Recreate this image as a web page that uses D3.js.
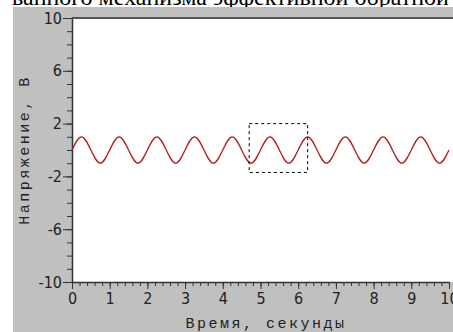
<!DOCTYPE html>
<html>
<head>
<meta charset="utf-8">
<script src="https://cdn.jsdelivr.net/npm/d3@7"></script>
<style>
  body { margin: 0; background: #fff; }
  .tick text { font-family: "Liberation Sans Narrow", "DejaVu Sans Condensed", sans-serif; font-size: 16px; fill: #222; }
  .axis-title { font-family: "Liberation Mono", monospace; font-size: 15px; letter-spacing: 2.5px; fill: #222; }
</style>
</head>
<body>
<div id="chart"></div>
<script>
// time, seconds (quarter periods) and voltage, V
const times = [0, 0.25, 0.5, 0.75, 1, 1.25, 1.5, 1.75, 2, 2.25, 2.5, 2.75, 3, 3.25, 3.5, 3.75,
  4, 4.25, 4.5, 4.75, 5, 5.25, 5.5, 5.75, 6, 6.25, 6.5, 6.75, 7, 7.25, 7.5, 7.75,
  8, 8.25, 8.5, 8.75, 9, 9.25, 9.5, 9.75, 10];
const volts = [0, 1, 0, -1, 0, 1, 0, -1, 0, 1, 0, -1, 0, 1, 0, -1,
  0, 1, 0, -1, 0, 1, 0, -1, 0, 1, 0, -1, 0, 1, 0, -1,
  0, 1, 0, -1, 0, 1, 0, -1, 0];
const xTickLabels = [0, 1, 2, 3, 4, 5, 6, 7, 8, 9, 10];
const yTickLabels = [10, 6, 2, -2, -6, -10];
// dashed selection box: [x0, x1, y0, y1]
const zoomBox = [4.7, 6.25, -1.7, 2];
const titleText = "ванного механизма эффективной обратной связи";

const W = 453, H = 332;
const margin = {top: 18, right: 0, bottom: 50, left: 72};

const svg = d3.select("#chart").append("svg")
  .attr("width", W)
  .attr("height", H);

svg.append("text")
  .attr("x", 12)
  .attr("y", 5)
  .style("font-family", "Liberation Serif, serif")
  .style("font-size", "24px")
  .style("fill", "#000")
  .text(titleText);

svg.append("rect")
  .attr("x", 13).attr("y", 7)
  .attr("width", W - 13).attr("height", H - 7)
  .attr("fill", "#c0c0c0");

const x = d3.scaleLinear().domain([0, 10]).range([margin.left, 449]);
const y = d3.scaleLinear().domain([-10, 10]).range([282, margin.top]);

svg.append("rect")
  .attr("x", margin.left).attr("y", margin.top)
  .attr("width", W - margin.left).attr("height", y(-10) - margin.top)
  .attr("fill", "#fff");

// top frame line
svg.append("line")
  .attr("x1", margin.left).attr("x2", W)
  .attr("y1", margin.top).attr("y2", margin.top)
  .attr("stroke", "#555").attr("stroke-width", 2);

// minor ticks
svg.append("g")
  .attr("transform", `translate(0,${y(-10)})`)
  .call(d3.axisBottom(x).ticks(50).tickSize(4).tickFormat("").tickSizeOuter(0))
  .call(g => g.select(".domain").remove())
  .call(g => g.selectAll("line").attr("stroke", "#333"));

svg.append("g")
  .attr("transform", `translate(${margin.left},0)`)
  .call(d3.axisLeft(y).ticks(20).tickSize(5).tickFormat("").tickSizeOuter(0))
  .call(g => g.select(".domain").remove())
  .call(g => g.selectAll("line").attr("stroke", "#333"));

// major ticks with labels (plain hyphen for negatives)
svg.append("g")
  .attr("transform", `translate(0,${y(-10)})`)
  .call(d3.axisBottom(x).tickValues(xTickLabels).tickFormat(d => String(d))
    .tickSize(7).tickPadding(4).tickSizeOuter(0))
  .call(g => g.select(".domain").attr("stroke", "#333").attr("stroke-width", 1.5))
  .call(g => g.selectAll("line").attr("stroke", "#333"));

svg.append("g")
  .attr("transform", `translate(${margin.left},0)`)
  .call(d3.axisLeft(y).tickValues(yTickLabels).tickFormat(d => String(d))
    .tickSize(9).tickPadding(1).tickSizeOuter(0))
  .call(g => g.select(".domain").attr("stroke", "#333").attr("stroke-width", 1.5))
  .call(g => g.selectAll("line").attr("stroke", "#333"));

svg.append("text")
  .attr("class", "axis-title")
  .attr("x", 266).attr("y", 328)
  .attr("text-anchor", "middle")
  .text("Время, секунды");

svg.append("text")
  .attr("class", "axis-title")
  .attr("transform", `translate(29,${y(0)}) rotate(-90)`)
  .attr("text-anchor", "middle")
  .text("Напряжение, В");

const line = d3.line()
  .x((d, i) => x(times[i]))
  .y(d => y(d))
  .curve(d3.curveNatural);

svg.append("path")
  .datum(volts)
  .attr("d", line)
  .attr("fill", "none")
  .attr("stroke", "#b41e1e")
  .attr("stroke-width", 1.3);

svg.append("rect")
  .attr("x", x(zoomBox[0])).attr("y", y(zoomBox[3]))
  .attr("width", x(zoomBox[1]) - x(zoomBox[0]))
  .attr("height", y(zoomBox[2]) - y(zoomBox[3]))
  .attr("fill", "none")
  .attr("stroke", "#000")
  .attr("stroke-width", 1)
  .attr("stroke-dasharray", "3,3");
</script>
</body>
</html>
